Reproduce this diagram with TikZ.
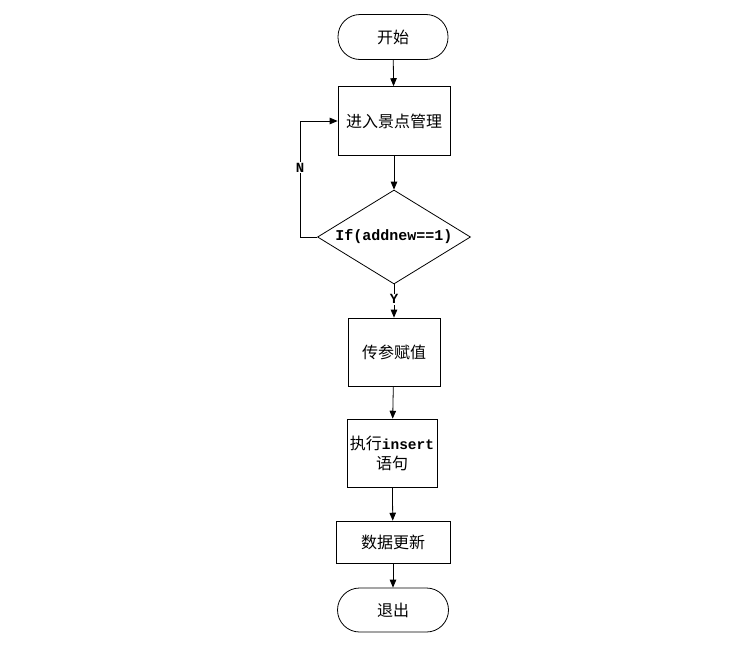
\documentclass[tikz,border=0pt]{standalone}
\usepackage{fontspec}
\newfontfamily\cjk{Noto Sans CJK SC}
\setmonofont{Liberation Mono}
\usetikzlibrary{shapes,arrows,positioning}
\tikzstyle{terminal} = [draw, rectangle, rounded corners=22pt, line width=0.8pt, minimum width=110pt, minimum height=45pt, font=\cjk\fontsize{16}{19}\selectfont]
\tikzstyle{process} = [draw, rectangle, line width=0.8pt, align=center, font=\cjk\fontsize{16}{20}\selectfont]
\tikzstyle{decision} = [draw, diamond, line width=0.8pt, aspect=1.63, inner sep=0pt, minimum width=153pt, minimum height=94pt, font=\ttfamily\bfseries\fontsize{15}{18}\selectfont]
\tikzstyle{flow} = [->, >=triangle 45, line width=0.8pt]
\tikzstyle{answer} = [fill=white, inner sep=1pt, font=\ttfamily\bfseries\fontsize{14}{16}\selectfont]

\begin{document}
\begin{tikzpicture}[x=1pt, y=-1pt]
\useasboundingbox (0,0) rectangle (747,648);
\node[terminal] (start) at (393,37) {开始};
\node[process, minimum width=112pt, minimum height=69pt] (manage) at (394,121) {进入景点管理};
\node[decision] (check) at (394,237) {If(addnew==1)};
\node[process, minimum width=92pt, minimum height=68pt] (param) at (394,352) {传参赋值};
\node[process, minimum width=90pt, minimum height=68pt, inner xsep=1pt] (insert) at (392,453) {执行{\ttfamily\bfseries\fontsize{14.5}{20}\selectfont insert}\\语句};
\node[process, minimum width=114pt, minimum height=42pt] (update) at (393,542) {数据更新};
\node[terminal, minimum width=111pt, minimum height=44pt] (stop) at (393,610) {退出};
\coordinate (back) at (300,237);

\draw[flow] (start) -- (manage);
\draw[flow] (manage) -- (check);
\draw[flow] (check) -- node[answer, pos=0.45] {Y} (param);
\draw[flow] (param) -- (insert);
\draw[flow] (insert) -- (update);
\draw[flow] (update) -- (stop);
\draw[flow] (check.west) -- (back) |- node[answer, pos=0.30] {N} (manage.west);
\end{tikzpicture}
\end{document}
